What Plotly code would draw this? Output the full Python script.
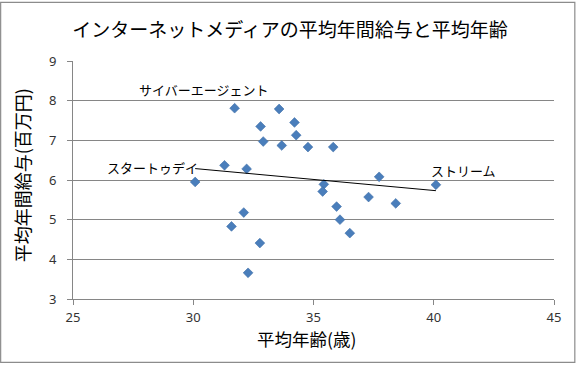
import numpy as np
import plotly.graph_objects as go

# data
ages = [31.72, 33.57, 32.80, 34.21, 34.28, 32.91, 33.68, 34.77, 35.82,
        31.30, 32.22, 30.08, 35.43, 35.38, 32.10, 31.59, 35.96, 36.10,
        36.51, 37.29, 37.73, 32.77, 32.28, 38.42, 40.09]
salaries = [7.81, 7.79, 7.35, 7.45, 7.13, 6.97, 6.87, 6.83, 6.83,
            6.37, 6.28, 5.95, 5.89, 5.71, 5.18, 4.83, 5.33, 5.00,
            4.66, 5.57, 6.08, 4.41, 3.66, 5.41, 5.88]
label_names = ["サイバーエージェント", "スタートゥデイ", "ストリーム"]
label_index = [0, 11, 24]
x_ticks = [25, 30, 35, 40, 45]
y_ticks = [3, 4, 5, 6, 7, 8, 9]

title_text = "インターネットメディアの平均年間給与と平均年齢"
x_title = "平均年齢(歳)"
y_title = "平均年間給与(百万円)"

JP = "Noto Sans CJK JP"
fig = go.Figure()

fig.add_trace(go.Scatter(
    x=ages, y=salaries, mode="markers",
    marker=dict(symbol="diamond", size=7.5, color="#4A7EBB",
                line=dict(width=0.6, color="#3F6FA8")),
    showlegend=False, hoverinfo="x+y"))

# linear trend line over the data range
xa = np.array(ages)
ya = np.array(salaries)
k, b = np.polyfit(xa, ya, 1)
tx = [xa.min(), xa.max()]
ty = [k * v + b for v in tx]
fig.add_trace(go.Scatter(x=tx, y=ty, mode="lines",
                         line=dict(color="#000000", width=1),
                         showlegend=False, hoverinfo="skip"))

# data labels
label_style = [
    dict(xanchor="center", xshift=-31, yshift=19),
    dict(xanchor="right", xshift=5, yshift=14),
    dict(xanchor="left", xshift=-7, yshift=14),
]
for name, idx, st in zip(label_names, label_index, label_style):
    fig.add_annotation(x=ages[idx], y=salaries[idx], xref="x", yref="y",
                       text=name, showarrow=False, yanchor="middle",
                       font=dict(family=JP, size=13, color="#000000"), **st)

# axis titles
fig.add_annotation(x=0.486, y=-0.168, xref="paper", yref="paper",
                   text=x_title, showarrow=False, xanchor="center", yanchor="middle",
                   font=dict(family=JP, size=17.5, color="#000000"))
fig.add_annotation(x=-0.106, y=0.52, xref="paper", yref="paper",
                   text=y_title, showarrow=False, textangle=-90,
                   xanchor="center", yanchor="middle",
                   font=dict(family=JP, size=18, color="#000000"))

# chart border
fig.add_shape(type="rect", xref="paper", yref="paper",
              x0=-0.1504, x1=1.0433, y0=-0.266, y1=1.2466,
              line=dict(color="#8C8C8C", width=1.2), fillcolor="rgba(0,0,0,0)",
              layer="above")

axis_common = dict(showline=True, linecolor="#868686", linewidth=1,
                   ticks="outside", ticklen=5, tickcolor="#868686",
                   tickfont=dict(family="Noto Sans", size=13, color="#333333"),
                   zeroline=False)

fig.update_layout(
    width=580, height=367,
    margin=dict(l=73, r=26, t=61, b=68),
    paper_bgcolor="white", plot_bgcolor="white",
    title=dict(text=title_text, x=0.5, xref="container", xanchor="center",
               y=1 - 30 / 367, yref="container", yanchor="middle",
               font=dict(family=JP, size=19, color="#000000")),
    xaxis=dict(range=[25, 45], tickvals=x_ticks, showgrid=False,
               ticklabelstandoff=1, **axis_common),
    yaxis=dict(range=[3, 9], tickvals=y_ticks, showgrid=True,
               gridcolor="#868686", gridwidth=1,
               ticklabelstandoff=8, **axis_common),
)

fig.write_html("out.html", config={"displayModeBar": False},
               post_script="document.body.style.margin='0';document.body.style.padding='0';")
